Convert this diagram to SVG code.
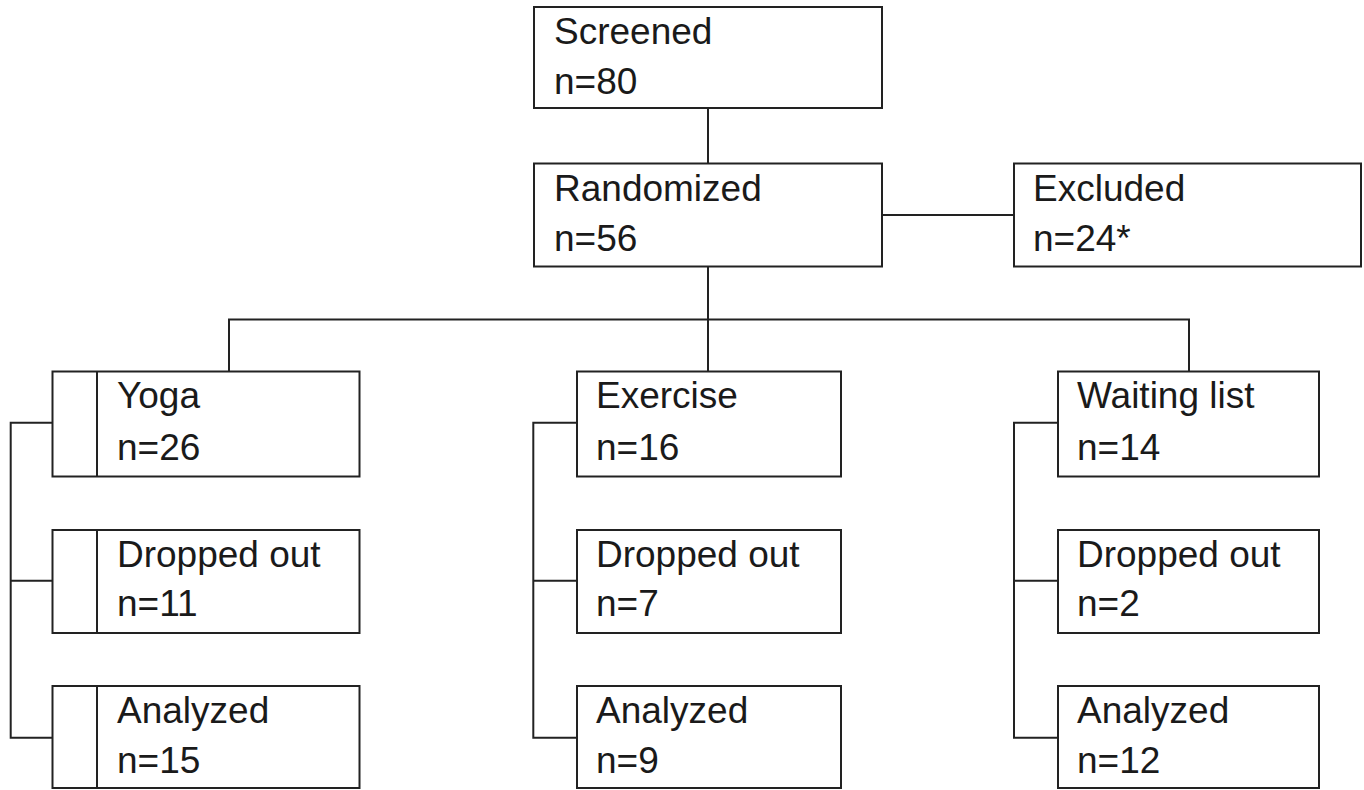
<svg xmlns="http://www.w3.org/2000/svg" width="1364" height="790" viewBox="0 0 1364 790">
<style>
.box{fill:#fff;stroke:#222;stroke-width:2}
.ln{fill:none;stroke:#222;stroke-width:2}
text{font-family:"Liberation Sans",Arial,sans-serif;font-size:37px;fill:#1a1a1a}
</style>
<rect x="0" y="0" width="1364" height="790" fill="#fff"/>
<g id="connectors">
<path class="ln" d="M708 108V163.5"/>
<path class="ln" d="M882 215H1014"/>
<path class="ln" d="M708 266.5V371.5"/>
<path class="ln" d="M229 371.5V319.5H1189V371.5"/>
<path class="ln" d="M52.5 422.7H10.7V737.7H52.5M10.7 580.7H52.5"/>
<path class="ln" d="M577 422.7H533.3V737.7H577M533.3 580.7H577"/>
<path class="ln" d="M1058 422.7H1014V737.7H1058M1014 580.7H1058"/>
</g>
<g id="screened"><rect class="box" x="534" y="7" width="348" height="101"/><text x="554" y="44">Screened</text><text x="554" y="94">n=80</text></g>
<g id="randomized"><rect class="box" x="534" y="163.5" width="348" height="103"/><text x="554" y="201">Randomized</text><text x="554" y="251">n=56</text></g>
<g id="excluded"><rect class="box" x="1014" y="163.5" width="347" height="103"/><text x="1033" y="201">Excluded</text><text x="1033" y="251">n=24*</text></g>
<g id="yoga"><rect class="box" x="52.5" y="371.5" width="307" height="105"/><path class="ln" d="M97 371.5V476.5"/><text x="117" y="408">Yoga</text><text x="117" y="460">n=26</text></g>
<g id="yoga-dropped"><rect class="box" x="52.5" y="530" width="307" height="103"/><path class="ln" d="M97 530V633"/><text x="117" y="567">Dropped out</text><text x="117" y="616">n=11</text></g>
<g id="yoga-analyzed"><rect class="box" x="52.5" y="686" width="307" height="102"/><path class="ln" d="M97 686V788"/><text x="117" y="723">Analyzed</text><text x="117" y="773">n=15</text></g>
<g id="exercise"><rect class="box" x="577" y="371.5" width="264" height="105"/><text x="596" y="408">Exercise</text><text x="596" y="460">n=16</text></g>
<g id="exercise-dropped"><rect class="box" x="577" y="530" width="264" height="103"/><text x="596" y="567">Dropped out</text><text x="596" y="616">n=7</text></g>
<g id="exercise-analyzed"><rect class="box" x="577" y="686" width="264" height="102"/><text x="596" y="723">Analyzed</text><text x="596" y="773">n=9</text></g>
<g id="waiting"><rect class="box" x="1058" y="371.5" width="261" height="105"/><text x="1077" y="408">Waiting list</text><text x="1077" y="460">n=14</text></g>
<g id="waiting-dropped"><rect class="box" x="1058" y="530" width="261" height="103"/><text x="1077" y="567">Dropped out</text><text x="1077" y="616">n=2</text></g>
<g id="waiting-analyzed"><rect class="box" x="1058" y="686" width="261" height="102"/><text x="1077" y="723">Analyzed</text><text x="1077" y="773">n=12</text></g>
</svg>
